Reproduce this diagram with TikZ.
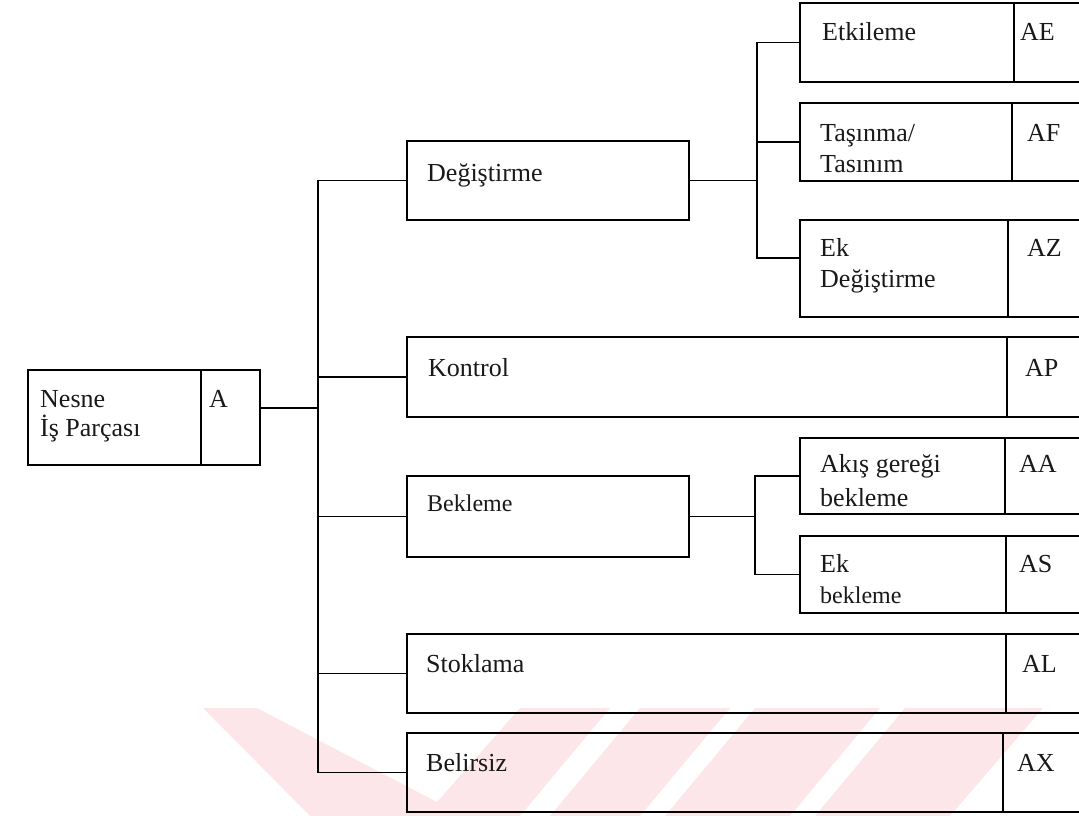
\documentclass[tikz,border=0pt]{standalone}
\usepackage{fontspec}
\setmainfont{Liberation Serif}
\begin{document}
\begin{tikzpicture}[x=1pt,y=-1pt,
  cell/.style={draw=black,line width=1.2pt,rectangle,inner sep=0pt,outer sep=0pt,anchor=north west},
  txt/.style={inner sep=0pt,anchor=base west,font=\fontsize{26}{31}\selectfont,text=black!90},
  smalltxt/.style={txt,font=\fontsize{24}{29}\selectfont},
  wire/.style={draw=black,line width=1.2pt},
  wm/.style={fill={rgb,255:red,253;green,230;blue,234},draw=none}]
\useasboundingbox (0,0) rectangle (1079,816);
\clip (0,0) rectangle (1079,816);

% faint stripes along the bottom edge
\fill[wm] (203,708) -- (257,708) -- (437,802) -- (520,708) -- (610,708) -- (520,816) -- (310,816) -- cycle;
\fill[wm] (640,708) -- (730,708) -- (640,816) -- (550,816) -- cycle;
\fill[wm] (755,708) -- (880,708) -- (790,816) -- (665,816) -- cycle;
\fill[wm] (905,708) -- (1043,708) -- (950,816) -- (815,816) -- cycle;

% root
\node[cell,minimum width=173pt,minimum height=95pt] (root) at (28,370) {};
\node[cell,minimum width=59pt,minimum height=95pt] (rootC) at (201,370) {};
\node[txt] (rootL1) at (40,407) {Nesne};
\node[txt] (rootL2) at (40,436) {İş Parçası};
\node[txt] (rootK) at (209,407) {A};

% first level
\node[cell,minimum width=282pt,minimum height=79pt] (deg) at (407,141) {};
\node[txt] (degL) at (427,181) {Değiştirme};

\node[cell,minimum width=600pt,minimum height=80pt] (kon) at (407,337) {};
\node[cell,minimum width=80pt,minimum height=80pt] (konC) at (1007,337) {};
\node[txt] (konL) at (428,376) {Kontrol};
\node[txt] (konK) at (1025,376) {AP};

\node[cell,minimum width=282pt,minimum height=81pt] (bek) at (407,476) {};
\node[smalltxt] (bekL) at (427,511) {Bekleme};

\node[cell,minimum width=599pt,minimum height=79pt] (sto) at (407,634) {};
\node[cell,minimum width=80pt,minimum height=79pt] (stoC) at (1006,634) {};
\node[txt] (stoL) at (426,672) {Stoklama};
\node[txt] (stoK) at (1022,672) {AL};

\node[cell,minimum width=596pt,minimum height=79pt] (bel) at (407,733) {};
\node[cell,minimum width=84pt,minimum height=79pt] (belC) at (1003,733) {};
\node[txt] (belL) at (426,771) {Belirsiz};
\node[txt] (belK) at (1017,771) {AX};

% second level under Değiştirme
\node[cell,minimum width=214pt,minimum height=79pt] (etk) at (800,3) {};
\node[cell,minimum width=80pt,minimum height=79pt] (etkC) at (1014,3) {};
\node[txt] (etkL) at (822,41) {Etkileme};
\node[txt] (etkK) at (1020,41) {AE};

\node[cell,minimum width=212pt,minimum height=78pt] (tas) at (800,103) {};
\node[cell,minimum width=80pt,minimum height=78pt] (tasC) at (1012,103) {};
\node[txt] (tasL1) at (820,141) {Taşınma/};
\node[txt] (tasL2) at (820,172) {Tasınım};
\node[txt] (tasK) at (1027,141) {AF};

\node[cell,minimum width=208pt,minimum height=97pt] (ekd) at (800,220) {};
\node[cell,minimum width=80pt,minimum height=97pt] (ekdC) at (1008,220) {};
\node[txt] (ekdL1) at (820,256) {Ek};
\node[txt] (ekdL2) at (820,287) {Değiştirme};
\node[txt] (ekdK) at (1027,256) {AZ};

% second level under Bekleme
\node[cell,minimum width=205pt,minimum height=76pt] (aki) at (800,438) {};
\node[cell,minimum width=80pt,minimum height=76pt] (akiC) at (1005,438) {};
\node[txt] (akiL1) at (820,472) {Akış gereği};
\node[txt] (akiL2) at (820,506) {bekleme};
\node[txt] (akiK) at (1019,472) {AA};

\node[cell,minimum width=206pt,minimum height=77pt] (ekb) at (800,536) {};
\node[cell,minimum width=80pt,minimum height=77pt] (ekbC) at (1006,536) {};
\node[txt] (ekbL1) at (820,572) {Ek};
\node[smalltxt] (ekbL2) at (820,603) {bekleme};
\node[txt] (ekbK) at (1019,572) {AS};

% connectors
\coordinate (trunk) at (318,0);
\coordinate (subA) at (757,0);
\coordinate (subB) at (755,0);
\coordinate (rootOut) at ([yshift=9.5pt]rootC.east);
\coordinate (ekdIn) at ([yshift=10.5pt]ekd.west);

\draw[wire] (rootOut) -- (trunk |- rootOut);
\draw[wire] (deg.west) -| (trunk |- bel.west) -- (bel.west);
\draw[wire] (trunk |- kon.west) -- (kon.west);
\draw[wire] (trunk |- bek.west) -- (bek.west);
\draw[wire] (trunk |- sto.west) -- (sto.west);

\draw[wire] (deg.east) -- (subA |- deg.east);
\draw[wire] (etk.west) -| (subA |- ekdIn) -- (ekdIn);
\draw[wire] (subA |- tas.west) -- (tas.west);

\draw[wire] (bek.east) -- (subB |- bek.east);
\draw[wire] (aki.west) -| (subB |- ekb.west) -- (ekb.west);
\end{tikzpicture}
\end{document}
